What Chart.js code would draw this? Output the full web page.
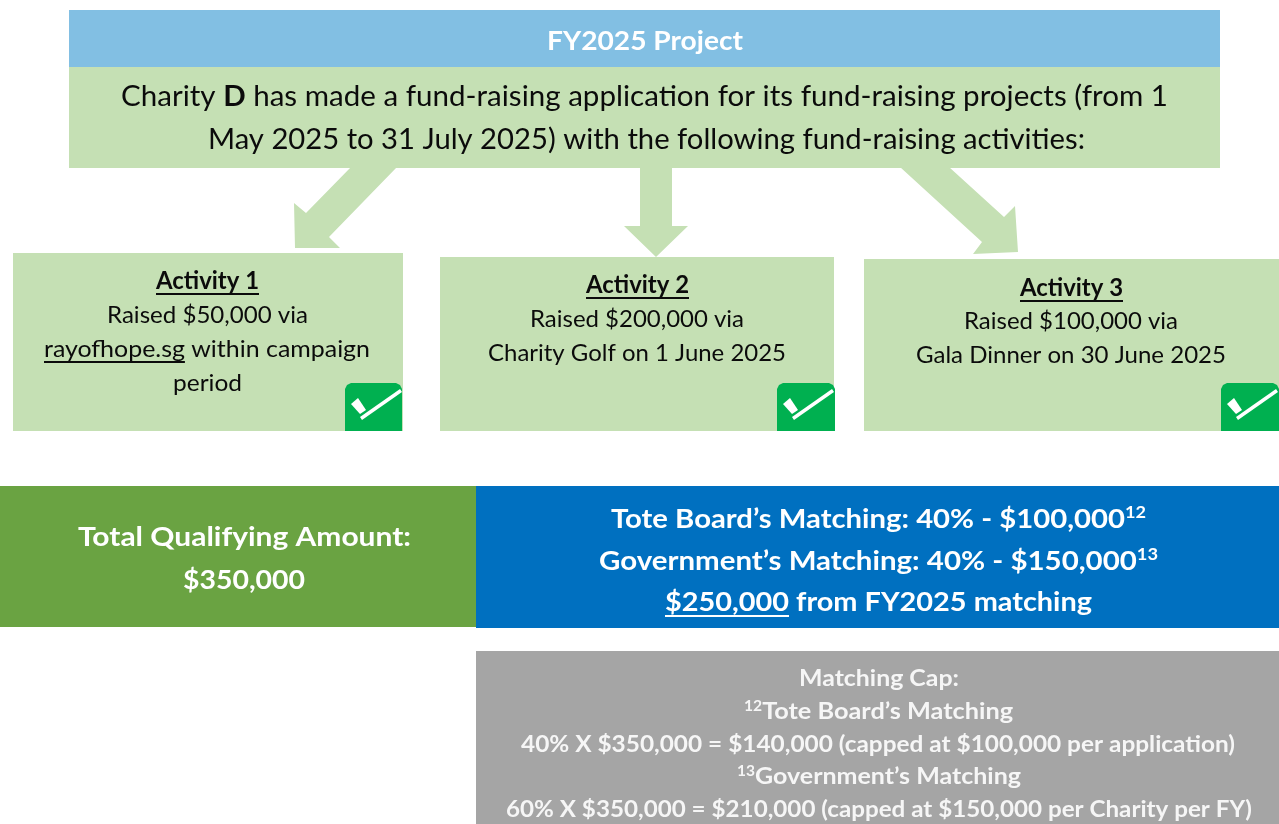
<!DOCTYPE html>
<html><head><meta charset="utf-8">
<style>html,body{margin:0;padding:0;background:#fff;overflow:hidden}canvas{display:block}</style>
<script src="https://cdn.jsdelivr.net/npm/chart.js@4"></script>
</head><body><canvas id="c" width="1279" height="824"></canvas>
<script>
// ---- values and text ----
const activityNames = ["Activity 1", "Activity 2", "Activity 3"];
const activityAmounts = ["$50,000", "$200,000", "$100,000"];
const activityChannels = ["rayofhope.sg", "Charity Golf on 1 June 2025", "Gala Dinner on 30 June 2025"];
const totalQualifying = "$350,000";
const matchedTotal = "$250,000";
const toteMatch = "$100,000";
const govMatch = "$150,000";
const headerLines = ["FY2025 Project",
  "Charity <b>D</b> has made a fund-raising application for its fund-raising projects (from 1",
  "May 2025 to 31 July 2025) with the following fund-raising activities:"];
const capLines = ["Matching Cap:",
  "<sup>12</sup>Tote Board’s Matching",
  "40% X $350,000 = $140,000 (capped at $100,000 per application)",
  "<sup>13</sup>Government’s Matching",
  "60% X $350,000 = $210,000 (capped at $150,000 per Charity per FY)"];

const textLines = [
  headerLines[0], headerLines[1], headerLines[2],
  `<b><u>${activityNames[0]}</u></b>`, `Raised ${activityAmounts[0]} via`, `<u>${activityChannels[0]}</u> within campaign`, "period",
  `<b><u>${activityNames[1]}</u></b>`, `Raised ${activityAmounts[1]} via`, activityChannels[1],
  `<b><u>${activityNames[2]}</u></b>`, `Raised ${activityAmounts[2]} via`, activityChannels[2],
  "Total Qualifying Amount:", totalQualifying,
  `Tote Board’s Matching: 40% - ${toteMatch}<sup>12</sup>`,
  `Government’s Matching: 40% - ${govMatch}<sup>13</sup>`,
  `<u>${matchedTotal}</u> from FY2025 matching`,
  ...capLines
];

// ---- layout ----
const DARK = "#0b0b0b", WHITE = "#ffffff", PALE = "#f6f6f6";
const MAIN = 29, HEAD = 27, ACT = 24, CAP = 23.5;
// [left, right, baseline, size, bold, colour], one per text line
const textLayout = [
  [547, 743, 50, HEAD, 1, WHITE],
  [121, 1168, 105.5, MAIN, 0, DARK], [208, 1085, 148.5, MAIN, 0, DARK],
  [156, 259, 289, ACT, 1, DARK], [107, 308, 323, ACT, 0, DARK], [44, 370, 357, ACT, 0, DARK], [173, 242, 391, ACT, 0, DARK],
  [586, 689, 293, ACT, 1, DARK], [530, 744, 327, ACT, 0, DARK], [488, 786, 361, ACT, 0, DARK],
  [1020, 1123, 296, ACT, 1, DARK], [964, 1178, 329, ACT, 0, DARK], [916, 1226, 363, ACT, 0, DARK],
  [78, 411, 546, HEAD, 1, WHITE], [183, 305, 589, HEAD, 1, WHITE],
  [611, 1146, 527.5, HEAD, 1, WHITE], [599, 1158, 570, HEAD, 1, WHITE], [665, 1092, 611, HEAD, 1, WHITE],
  [799, 959, 686, CAP, 1, PALE], [744, 1013, 719, CAP, 1, PALE], [521, 1235, 752, CAP, 1, PALE],
  [737, 1021, 784, CAP, 1, PALE], [506, 1252, 817, CAP, 1, PALE]
];
const rect = (l, t, r, b) => [[l, t], [r, t], [r, b], [l, b]];
const pts = a => a.map(p => ({x: p[0], y: p[1]}));
const BLUE = "#82BFE3", GREEN = "#C5E0B4", OLIVE = "#6AA342", ROYAL = "#0070C0", GREY = "#A5A5A5", CHECK = "#00B050";
const shapes = [
  [rect(69, 10, 1220, 67), BLUE], [rect(69, 67, 1220, 168), GREEN],
  [[[351,167],[397,167],[329,237],[340,248],[295,248],[294,203],[306,213]], GREEN],
  [[[640,167],[672,167],[672,226],[688,226],[656,257],[624,226],[640,226]], GREEN],
  [[[900,167],[949,167],[1004,217],[1015,206],[1018,252],[973,254],[982,242]], GREEN],
  [rect(13, 253, 403, 431), GREEN], [rect(440, 257, 834, 431), GREEN], [rect(864, 259, 1279, 431), GREEN],
  [rect(0, 486, 476, 627), OLIVE], [rect(476, 486, 1279, 628), ROYAL], [rect(476, 651, 1279, 824), GREY]
];
const checkLefts = [345, 777, 1221];
const checkWidths = [57, 58, 58];
const checkBadge = w => [[0,48],[0,6],[2,2],[6,0],[w-6,0],[w-2,2],[w,6],[w,48]];
const checkSquare = [[6,21],[13,15],[21,27],[15,31]];
const checkStripe = [[15,34],[55,6],[57,9],[17,37]];
const shift = (poly, x) => poly.map(p => [p[0] + x, p[1] + 383]);

const polyDataset = (poly, colour, order) => ({
  data: pts(poly), showLine: true, fill: "shape", backgroundColor: colour, borderWidth: 0,
  borderColor: colour, pointRadius: 0, tension: 0, order, clip: false
});
const datasets = shapes.map(s => polyDataset(s[0], s[1], 3));
checkLefts.forEach((x, i) => {
  datasets.push(polyDataset(shift(checkBadge(checkWidths[i]), x), CHECK, 2));
  datasets.push(polyDataset(shift(checkSquare, x), WHITE, 1));
  datasets.push(polyDataset(shift(checkStripe, x), WHITE, 1));
});

function parseRuns(s) {
  const runs = []; let b = false, u = false, sup = false;
  s.split(/(<\/?(?:b|u|sup)>)/).forEach(tok => {
    if (tok === "<b>") b = true; else if (tok === "</b>") b = false;
    else if (tok === "<u>") u = true; else if (tok === "</u>") u = false;
    else if (tok === "<sup>") sup = true; else if (tok === "</sup>") sup = false;
    else if (tok) runs.push({t: tok, b, u, sup});
  });
  return runs;
}
const textPlugin = {
  id: "diagramText",
  afterDatasetsDraw(chart) {
    const ctx = chart.ctx, X = chart.scales.x, Y = chart.scales.y;
    textLines.forEach((line, i) => {
      const [l, r, base, size, bold, colour] = textLayout[i];
      const x0 = X.getPixelForValue(l), x1 = X.getPixelForValue(r), y = Y.getPixelForValue(base);
      const runs = parseRuns(line);
      const fontOf = run => `${(bold || run.b) ? "bold " : ""}${run.sup ? size * 0.62 : size}px Lato`;
      ctx.save();
      ctx.textBaseline = "alphabetic"; ctx.textAlign = "left"; ctx.fillStyle = colour;
      let w = 0;
      runs.forEach(run => { ctx.font = fontOf(run); run.w = ctx.measureText(run.t).width; w += run.w; });
      ctx.translate(x0, y); ctx.scale((x1 - x0) / w, 1);
      let cx = 0;
      runs.forEach(run => {
        ctx.font = fontOf(run);
        ctx.fillText(run.t, cx, run.sup ? -size * 0.36 : 0);
        if (run.u) ctx.fillRect(cx, 4, run.w, 2);
        cx += run.w;
      });
      ctx.restore();
    });
  }
};

document.fonts.load("26px Lato").finally(() => document.fonts.load("bold 26px Lato")).finally(() => {
  new Chart(document.getElementById("c"), {
    type: "scatter",
    data: {datasets},
    options: {
      responsive: false, animation: false, events: [],
      layout: {padding: 0},
      plugins: {legend: {display: false}, tooltip: {enabled: false}, title: {display: false}},
      scales: {
        x: {type: "linear", min: 0, max: 1279, display: false},
        y: {type: "linear", min: 0, max: 824, reverse: true, display: false}
      }
    },
    plugins: [textPlugin]
  });
});
</script></body></html>
